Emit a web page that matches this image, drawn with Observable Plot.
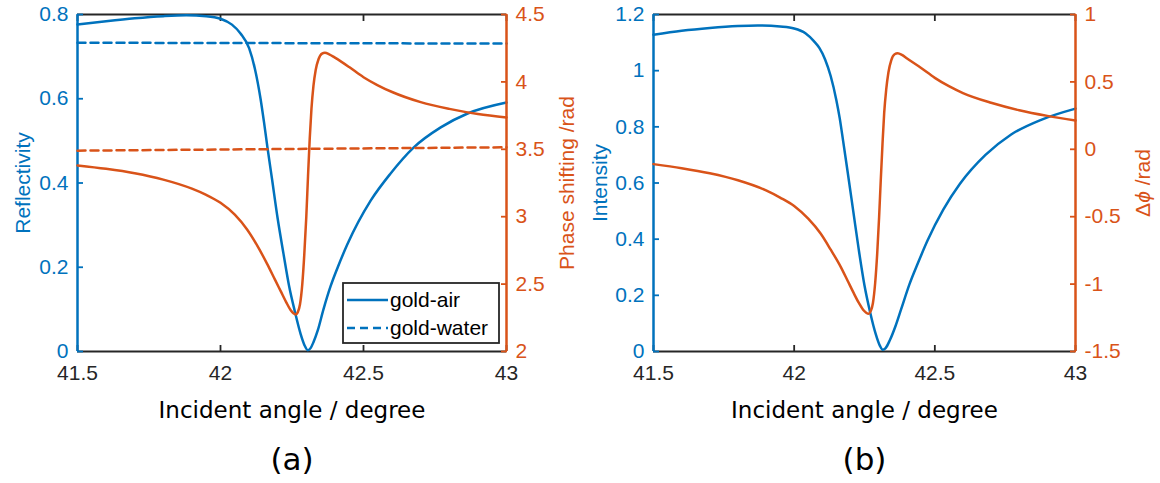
<!DOCTYPE html>
<html><head><meta charset="utf-8">
<script src="https://cdn.jsdelivr.net/npm/d3@7"></script>
<script src="https://cdn.jsdelivr.net/npm/@observablehq/plot@0.6"></script>
<style>
html,body{margin:0;padding:0;background:#fff;}
#wrap{position:relative;width:1160px;height:483px;overflow:hidden;background:#fff;}
.layer{position:absolute;top:0;}
.layer svg{display:block;overflow:visible;}
</style></head><body><div id="wrap"></div>
<script>
const BLUE = "#0072BD", ORANGE = "#D95319", AX = "#262626";

// ---- tick values ----
const xTicks = [41.5, 42, 42.5, 43];
const reflTicks = [0, 0.2, 0.4, 0.6, 0.8];
const phaseTicks = [2, 2.5, 3, 3.5, 4, 4.5];
const intTicks = [0, 0.2, 0.4, 0.6, 0.8, 1, 1.2];
const dphiTicks = [-1.5, -1, -0.5, 0, 0.5, 1];

// ---- panel (a): reflectivity, gold-air ----
const airAngle = [41.5, 41.6, 41.7, 41.8, 41.88, 41.95, 42.0, 42.04, 42.07, 42.1, 42.12, 42.14, 42.152, 42.164, 42.18, 42.2, 42.22, 42.24, 42.26, 42.28, 42.295, 42.305, 42.315, 42.325, 42.34, 42.36, 42.385, 42.41, 42.444, 42.525, 42.594, 42.675, 42.77, 42.864, 43.0];
const airRefl  = [0.776, 0.784, 0.791, 0.796, 0.798, 0.796, 0.790, 0.776, 0.755, 0.720, 0.672, 0.600, 0.545, 0.485, 0.410, 0.315, 0.233, 0.155, 0.095, 0.042, 0.013, 0.003, 0.008, 0.022, 0.050, 0.100, 0.155, 0.200, 0.255, 0.358, 0.422, 0.484, 0.532, 0.565, 0.591];
// ---- panel (a): phase, gold-air ----
const phaseAngle = [41.5, 41.6, 41.7, 41.8, 41.9, 41.95, 42.0, 42.05, 42.093, 42.13, 42.163, 42.19, 42.21, 42.23, 42.245, 42.255, 42.263, 42.27, 42.278, 42.286, 42.293, 42.3, 42.306, 42.312, 42.318, 42.325, 42.333, 42.343, 42.355, 42.365, 42.38, 42.4, 42.45, 42.5, 42.55, 42.6, 42.7, 42.8, 42.9, 43.0];
const phaseAir   = [3.38, 3.355, 3.322, 3.275, 3.208, 3.162, 3.103, 3.015, 2.905, 2.78, 2.65, 2.535, 2.45, 2.365, 2.308, 2.284, 2.275, 2.29, 2.35, 2.50, 2.72, 3.0, 3.30, 3.58, 3.80, 3.97, 4.09, 4.17, 4.21, 4.216, 4.205, 4.18, 4.11, 4.035, 3.975, 3.925, 3.85, 3.80, 3.762, 3.736];
// ---- panel (a): gold-water (dashed) ----
const waterAngle = [41.5, 43.0];
const waterRefl  = [0.733, 0.731];
const waterPhase = [3.49, 3.515];

// ---- panel (b): intensity ----
const intAngle = [41.5, 41.6, 41.7, 41.8, 41.87, 41.95, 42.0, 42.04, 42.07, 42.09, 42.11, 42.13, 42.15, 42.162, 42.174, 42.19, 42.21, 42.23, 42.25, 42.27, 42.29, 42.305, 42.315, 42.325, 42.34, 42.36, 42.38, 42.41, 42.44, 42.474, 42.53, 42.59, 42.68, 42.77, 42.88, 43.0];
const intensity = [1.128, 1.142, 1.152, 1.159, 1.161, 1.157, 1.150, 1.133, 1.105, 1.080, 1.040, 0.980, 0.895, 0.830, 0.750, 0.640, 0.500, 0.360, 0.235, 0.140, 0.062, 0.020, 0.006, 0.012, 0.040, 0.090, 0.150, 0.240, 0.315, 0.395, 0.505, 0.598, 0.700, 0.772, 0.826, 0.865];
// ---- panel (b): phase difference ----
const dphiAngle = [41.5, 41.6, 41.7, 41.8, 41.9, 41.95, 42.0, 42.05, 42.094, 42.13, 42.165, 42.19, 42.21, 42.23, 42.245, 42.256, 42.265, 42.272, 42.28, 42.288, 42.295, 42.302, 42.308, 42.314, 42.32, 42.327, 42.335, 42.345, 42.357, 42.368, 42.383, 42.4, 42.45, 42.5, 42.55, 42.6, 42.7, 42.8, 42.9, 43.0];
const dphi      = [-0.11, -0.14, -0.178, -0.23, -0.305, -0.358, -0.42, -0.515, -0.625, -0.745, -0.87, -0.975, -1.06, -1.14, -1.19, -1.212, -1.22, -1.20, -1.14, -0.99, -0.78, -0.50, -0.22, 0.04, 0.27, 0.44, 0.57, 0.66, 0.705, 0.712, 0.70, 0.675, 0.605, 0.53, 0.468, 0.417, 0.345, 0.29, 0.248, 0.214];

const legendItems = ["gold-air", "gold-water"];
const panelTags = ["(a)", "(b)"];
const xLabel = "Incident angle / degree";

const toRows = (xs, ys) => xs.map((x, i) => ({x, y: ys[i]}));
const fmt = d => String(d);
const W = 580, H = 483, MT = 14, MB = 132;
const SANS = "'Liberation Sans', Arial, sans-serif";
const VERD = "'DejaVu Sans', Verdana, sans-serif";

function baseLayer(o) {
  return Plot.plot({
    width: W, height: H,
    marginLeft: o.ml, marginRight: o.mr, marginTop: MT, marginBottom: MB,
    style: {fontFamily: SANS, fontSize: "21px", background: "transparent", overflow: "visible"},
    x: {domain: [41.5, 43]},
    y: {domain: o.yDomain},
    marks: [
      Plot.ruleY([o.yDomain[0]], {stroke: AX, strokeWidth: 2}),
      Plot.ruleY([o.yDomain[1]], {stroke: AX, strokeWidth: 2}),
      Plot.axisX({ticks: xTicks, anchor: "bottom", tickSize: 6, dy: -6, stroke: AX, strokeWidth: 1.8, fill: "none", label: null}),
      Plot.axisX({ticks: xTicks, anchor: "top", tickSize: 6, dy: 6, stroke: AX, strokeWidth: 1.8, fill: "none", label: null}),
      Plot.axisX({ticks: xTicks, anchor: "bottom", tickSize: 0, tickPadding: 14, fill: AX, tickFormat: fmt, label: null, fontSize: 21}),
      Plot.axisY({ticks: o.yTicks, anchor: "left", tickSize: 6, dx: 6, stroke: BLUE, strokeWidth: 1.8, fill: "none", label: null}),
      Plot.axisY({ticks: o.yTicks, anchor: "left", tickSize: 0, tickPadding: 9, fill: BLUE, tickFormat: fmt, label: null, fontSize: 21}),
      Plot.ruleX([41.5], {stroke: BLUE, strokeWidth: 2.5}),
      Plot.text([o.label], {text: d => d, frameAnchor: "left", dx: -o.labelOffset, rotate: -90, textAnchor: "middle", lineAnchor: "middle", fill: BLUE, fontSize: 21}),
      Plot.text([xLabel], {text: d => d, frameAnchor: "bottom", dy: 59, textAnchor: "middle", lineAnchor: "middle", fill: "#000", fontSize: 23, fontFamily: VERD}),
      Plot.text([o.tag], {text: d => d, frameAnchor: "bottom", dy: 109, textAnchor: "middle", lineAnchor: "middle", fill: "#000", fontSize: 31, fontFamily: VERD}),
      ...o.marks
    ]
  });
}

function rightLayer(o) {
  return Plot.plot({
    width: W, height: H,
    marginLeft: o.ml, marginRight: o.mr, marginTop: MT, marginBottom: MB,
    style: {fontFamily: SANS, fontSize: "21px", background: "transparent", overflow: "visible"},
    x: {domain: [41.5, 43], axis: null},
    y: {domain: o.yDomain, axis: null},
    marks: [
      Plot.axisY({ticks: o.yTicks, anchor: "right", tickSize: 6, dx: -6, stroke: ORANGE, strokeWidth: 1.8, fill: "none", label: null}),
      Plot.axisY({ticks: o.yTicks, anchor: "right", tickSize: 0, tickPadding: 9, fill: ORANGE, tickFormat: fmt, label: null, fontSize: 21}),
      Plot.ruleX([43], {stroke: ORANGE, strokeWidth: 2.5}),
      Plot.text([o.label], {text: d => d, frameAnchor: "right", dx: o.labelOffset, rotate: -90, textAnchor: "middle", lineAnchor: "middle", fill: ORANGE, fontSize: 21}),
      ...o.marks
    ]
  });
}

function addLayer(svg, left) {
  const d = document.createElement("div");
  d.className = "layer";
  d.style.left = left + "px";
  d.appendChild(svg);
  document.getElementById("wrap").appendChild(d);
  return svg;
}

// ---- Panel (a) ----
const aL = {ml: 77, mr: 74};
addLayer(baseLayer({
  ...aL, yDomain: [0, 0.8], yTicks: reflTicks, label: "Reflectivity", labelOffset: 54, tag: panelTags[0],
  marks: [
    Plot.line(toRows(waterAngle, waterRefl), {x: "x", y: "y", stroke: BLUE, strokeWidth: 2.5, strokeDasharray: "8,5"}),
    Plot.line(toRows(airAngle, airRefl), {x: "x", y: "y", stroke: BLUE, strokeWidth: 2.5, curve: "monotone-x"})
  ]
}), 0);
const aR = addLayer(rightLayer({
  ...aL, yDomain: [2, 4.5], yTicks: phaseTicks, label: "Phase shifting /rad", labelOffset: 61,
  marks: [
    Plot.line(toRows(waterAngle, waterPhase), {x: "x", y: "y", stroke: ORANGE, strokeWidth: 2.5, strokeDasharray: "8,5"}),
    Plot.line(toRows(phaseAngle, phaseAir), {x: "x", y: "y", stroke: ORANGE, strokeWidth: 2.5, curve: "monotone-x"})
  ]
}), 0);

// legend for panel (a)
{
  const g = d3.select(aR).append("g").attr("font-family", SANS).attr("font-size", 21).attr("text-anchor", "start");
  g.append("rect").attr("x", 343).attr("y", 283).attr("width", 156).attr("height", 60)
    .attr("fill", "#fff").attr("stroke", AX).attr("stroke-width", 1.8);
  legendItems.forEach((name, i) => {
    const y = 300 + i * 28;
    const ln = g.append("line").attr("x1", 347).attr("x2", 388).attr("y1", y).attr("y2", y)
      .attr("stroke", BLUE).attr("stroke-width", 2.5);
    if (i) ln.attr("stroke-dasharray", "8,5");
    g.append("text").attr("x", 390).attr("y", y).attr("dy", "0.35em").attr("text-anchor", "start").attr("fill", "#000").text(name);
  });
}

// ---- Panel (b) ----
const bL = {ml: 73, mr: 85};
addLayer(baseLayer({
  ...bL, yDomain: [0, 1.2], yTicks: intTicks, label: "Intensity", labelOffset: 53, tag: panelTags[1],
  marks: [
    Plot.line(toRows(intAngle, intensity), {x: "x", y: "y", stroke: BLUE, strokeWidth: 2.5, curve: "monotone-x"})
  ]
}), 580);
const bR = addLayer(rightLayer({
  ...bL, yDomain: [-1.5, 1], yTicks: dphiTicks, label: "Δϕ /rad", labelOffset: 68,
  marks: [
    Plot.line(toRows(dphiAngle, dphi), {x: "x", y: "y", stroke: ORANGE, strokeWidth: 2.5, curve: "monotone-x"})
  ]
}), 580);

// italic phi in the Δϕ label
d3.select(bR).selectAll("text").filter(function() { return this.textContent === "Δϕ /rad"; })
  .each(function() {
    const t = d3.select(this);
    t.text(null);
    t.append("tspan").text("Δ");
    t.append("tspan").attr("font-style", "italic").text("ϕ");
    t.append("tspan").text(" /rad");
  });
</script></body></html>
